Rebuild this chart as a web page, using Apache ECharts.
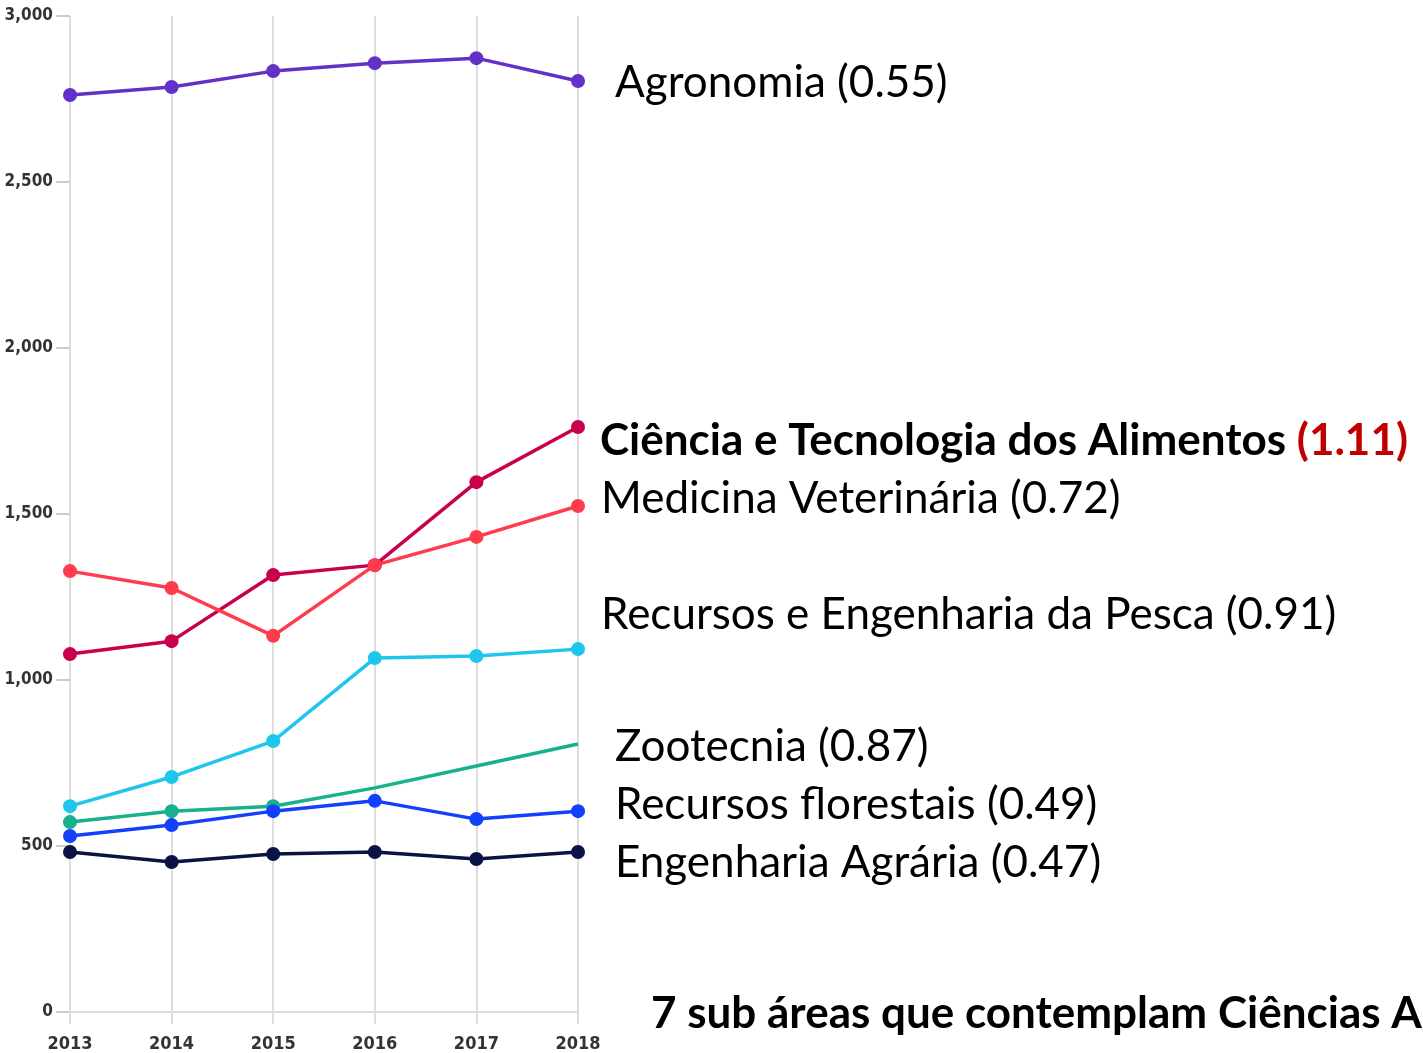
<!DOCTYPE html>
<html>
<head>
<meta charset="utf-8">
<script src="https://cdn.jsdelivr.net/npm/echarts@6/dist/echarts.min.js"></script>
<style>
    html, body { margin: 0; padding: 0; background: #fff; }
    #main { width: 1423px; height: 1053px; }
</style>
</head>
<body>
<div id="main"></div>
<script>
// anos no eixo x
var years = ['2013', '2014', '2015', '2016', '2017', '2018'];
var yTicks = [0, 500, 1000, 1500, 2000, 2500, 3000];

var agronomia = [2762, 2786, 2834, 2858, 2873, 2804];
var alimentos = [1078, 1117, 1316, 1346, 1596, 1762];
var veterinaria = [1328, 1277, 1133, 1346, 1431, 1524];
var pesca = [620, 708, 816, 1066, 1072, 1093];
var zootecnia = [572, 605, 620, 675, 741, 807];
var florestais = [530, 563, 605, 636, 581, 605];
var agraria = [482, 452, 476, 482, 461, 482];

// so os 3 primeiros pontos de zootecnia tem marcador
var zooMarked = [true, true, true, false, false, false];

function makeSeries(name, data, color) {
    return {
        name: name,
        type: 'line',
        data: data,
        symbol: 'circle',
        symbolSize: 14,
        lineStyle: { width: 3.5, color: color },
        itemStyle: { color: color },
        z: 3
    };
}

function label(x, y, text, bold) {
    return {
        type: 'text',
        x: x,
        y: y,
        style: {
            text: text,
            font: (bold ? 'bold ' : '') + '44px Lato, "Open Sans", sans-serif',
            fill: '#000',
            verticalAlign: 'middle'
        }
    };
}

function lineTable(id) {
    var myChart = echarts.init(document.getElementById(id));
    var axisFont = '"Liberation Sans Narrow", "DejaVu Sans Condensed", sans-serif';

    var zooData = zootecnia.map(function (v, i) {
        return { value: v, symbolSize: zooMarked[i] ? 14 : 0 };
    });

    var option = {
        animation: false,
        backgroundColor: '#fff',
        grid: {
            left: 70,
            right: 845,
            top: 16,
            bottom: 41,
            containLabel: false,
            outerBoundsMode: 'none'
        },
        xAxis: {
            type: 'category',
            boundaryGap: false,
            data: years,
            axisLine: { show: true, lineStyle: { color: '#dddddd', width: 2 } },
            axisTick: { show: true, length: 12, alignWithLabel: true, lineStyle: { color: '#dddddd', width: 2 } },
            axisLabel: {
                margin: 23,
                color: '#333',
                fontSize: 18,
                fontWeight: 'bold',
                fontFamily: axisFont
            },
            splitLine: { show: true, lineStyle: { color: '#dddddd', width: 2 } }
        },
        yAxis: {
            type: 'value',
            min: yTicks[0],
            max: yTicks[yTicks.length - 1],
            interval: 500,
            axisLine: { show: false },
            axisTick: { show: true, length: 14, lineStyle: { color: '#cccccc', width: 2 } },
            splitLine: { show: false },
            axisLabel: {
                margin: 17,
                color: '#333',
                fontSize: 17,
                fontWeight: 'bold',
                fontFamily: axisFont,
                formatter: function (v) {
                    return v.toLocaleString('en-US');
                }
            }
        },
        series: [
            makeSeries('Agronomia', agronomia, '#6431c8'),
            makeSeries('Ciência e Tecnologia dos Alimentos', alimentos, '#c8004e'),
            makeSeries('Medicina Veterinária', veterinaria, '#ff3b4c'),
            makeSeries('Recursos e Engenharia da Pesca', pesca, '#1fc6ec'),
            makeSeries('Zootecnia', zooData, '#19b08c'),
            makeSeries('Recursos florestais', florestais, '#1340fa'),
            makeSeries('Engenharia Agrária', agraria, '#0b1244')
        ],
        graphic: [
            label(615, 83, 'Agronomia (0.55)'),
            {
                type: 'text', x: 600, y: 441,
                style: {
                    text: '{b|Ciência e Tecnologia dos Alimentos }{r|(1.11)}',
                    verticalAlign: 'middle',
                    rich: {
                        b: { font: 'bold 44px Lato, "Open Sans", sans-serif', fill: '#000' },
                        r: { font: 'bold 44px Lato, "Open Sans", sans-serif', fill: '#c00000' }
                    }
                }
            },
            label(601, 499, 'Medicina Veterinária (0.72)'),
            label(601, 615, 'Recursos e Engenharia da Pesca (0.91)'),
            label(615, 747, 'Zootecnia (0.87)'),
            label(615, 805, 'Recursos florestais (0.49)'),
            label(615, 863, 'Engenharia Agrária (0.47)'),
            label(651, 1014, '7 sub áreas que contemplam Ciências Agrárias', true)
        ]
    };

    myChart.setOption(option);
}

lineTable('main');
</script>
</body>
</html>
